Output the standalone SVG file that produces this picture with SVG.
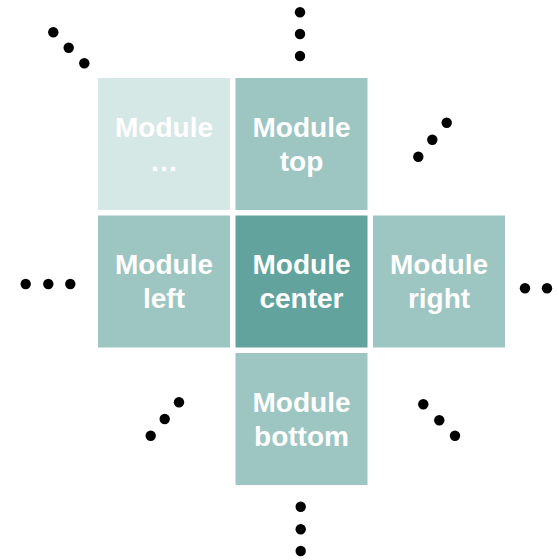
<svg xmlns="http://www.w3.org/2000/svg" width="559" height="560" viewBox="0 0 559 560">
  <style>
    .box { stroke: none; }
    .light { fill: #d6e8e6; }
    .mid { fill: #9dc5c2; }
    .dark { fill: #62a39e; }
    .label { font-family: "Liberation Sans", Arial, sans-serif; font-weight: bold; font-size: 28px; fill: #ffffff; text-anchor: middle; }
    .dot { fill: #000000; }
  </style>
  <rect width="559" height="560" fill="#ffffff"/>

  <g id="module-dots">
    <rect class="box light" x="98" y="78" width="132" height="132"/>
    <text class="label" x="164" y="137">Module</text>
    <text class="label" x="164" y="171">…</text>
  </g>
  <g id="module-top">
    <rect class="box mid" x="235.5" y="78" width="132" height="132"/>
    <text class="label" x="301.5" y="137">Module</text>
    <text class="label" x="301.5" y="171">top</text>
  </g>
  <g id="module-left">
    <rect class="box mid" x="98" y="215.5" width="132" height="132"/>
    <text class="label" x="164" y="274">Module</text>
    <text class="label" x="164" y="308">left</text>
  </g>
  <g id="module-center">
    <rect class="box dark" x="235.5" y="215.5" width="132" height="132"/>
    <text class="label" x="301.5" y="274">Module</text>
    <text class="label" x="301.5" y="308">center</text>
  </g>
  <g id="module-right">
    <rect class="box mid" x="373" y="215.5" width="132" height="132"/>
    <text class="label" x="439" y="274">Module</text>
    <text class="label" x="439" y="308">right</text>
  </g>
  <g id="module-bottom">
    <rect class="box mid" x="235.5" y="353" width="132" height="132"/>
    <text class="label" x="301.5" y="411.5">Module</text>
    <text class="label" x="301.5" y="445.5">bottom</text>
  </g>

  <g id="connectors">
    <!-- top-left ellipsis -->
    <circle class="dot" cx="53.3" cy="32.3" r="5.2"/>
    <circle class="dot" cx="68.7" cy="47.7" r="5.2"/>
    <circle class="dot" cx="84.3" cy="63.3" r="5.2"/>
    <!-- top ellipsis -->
    <circle class="dot" cx="300" cy="12.3" r="5.2"/>
    <circle class="dot" cx="300" cy="34" r="5.2"/>
    <circle class="dot" cx="300" cy="56" r="5.2"/>
    <!-- top-right ellipsis -->
    <circle class="dot" cx="446.7" cy="122.7" r="5.2"/>
    <circle class="dot" cx="432.3" cy="139.7" r="5.2"/>
    <circle class="dot" cx="418.3" cy="156.7" r="5.2"/>
    <!-- left ellipsis -->
    <circle class="dot" cx="25.7" cy="284" r="5.2"/>
    <circle class="dot" cx="48.3" cy="284" r="5.2"/>
    <circle class="dot" cx="70.3" cy="284" r="5.2"/>
    <!-- right ellipsis -->
    <circle class="dot" cx="525" cy="288.3" r="5.2"/>
    <circle class="dot" cx="547" cy="288.3" r="5.2"/>
    <!-- bottom-left ellipsis -->
    <circle class="dot" cx="179" cy="402.3" r="5.2"/>
    <circle class="dot" cx="164.7" cy="419" r="5.2"/>
    <circle class="dot" cx="150.7" cy="435.7" r="5.2"/>
    <!-- bottom-right ellipsis -->
    <circle class="dot" cx="423.3" cy="404.3" r="5.2"/>
    <circle class="dot" cx="439.3" cy="420.3" r="5.2"/>
    <circle class="dot" cx="455" cy="435.7" r="5.2"/>
    <!-- bottom ellipsis -->
    <circle class="dot" cx="300.7" cy="506.7" r="5.2"/>
    <circle class="dot" cx="300.7" cy="529.3" r="5.2"/>
    <circle class="dot" cx="300.7" cy="551" r="5.2"/>
  </g>
</svg>
